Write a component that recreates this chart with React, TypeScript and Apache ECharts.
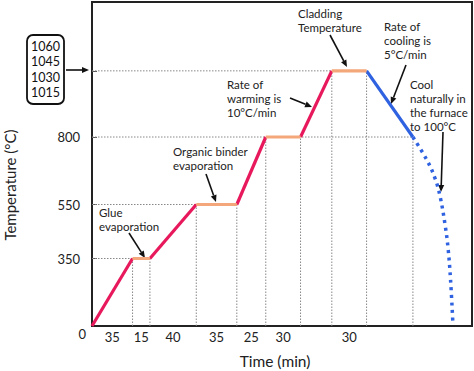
import React, { useEffect, useRef } from "react";
import * as echarts from "echarts";

// ---- data ----
const segmentMinutes = [35, 15, 40, 35, 25, 30, 27, 30, 40];
const breakTemps = [100, 350, 350, 550, 550, 800, 800, 1045, 1045, 800];
const phases = ["heat", "hold", "heat", "hold", "heat", "hold", "heat", "hold", "cool"];
const labeledSegments = [0, 1, 2, 3, 4, 5, 7];
const naturalTimes = [277, 289, 296, 300.5, 305, 307.5, 309.5, 311.5];
const naturalTemps = [800, 715, 648, 579, 468, 381, 270, 110];
const yTickValues = [350, 550, 800];
const gridLevels = [350, 550, 800, 1045];
const claddingTemps = ["1060", "1045", "1030", "1015"];

const Y_MIN = 100;
const Y_MAX = 1300;
const X_MAX = 328;

const FONT = "Lato";
const PHASE_COLOR: Record<string, string> = {
  heat: "#e8185c",
  hold: "#f4a77a",
  cool: "#2f62e0",
};

function arrow(x1: number, y1: number, x2: number, y2: number) {
  const ang = Math.atan2(y2 - y1, x2 - x1);
  const L = 7;
  const W = 3;
  const bx = x2 - L * Math.cos(ang);
  const by = y2 - L * Math.sin(ang);
  const px = -Math.sin(ang) * W;
  const py = Math.cos(ang) * W;
  return {
    type: "group",
    silent: true,
    children: [
      { type: "line", shape: { x1, y1, x2: bx, y2: by }, style: { stroke: "#111", lineWidth: 1.6 } },
      {
        type: "polygon",
        shape: { points: [[x2, y2], [bx + px, by + py], [bx - px, by - py]] },
        style: { fill: "#111" },
      },
    ],
  };
}

const NOTE_LH = 13.8;
function note(x: number, yFirstCenter: number, text: string) {
  return {
    type: "text",
    x,
    y: yFirstCenter - NOTE_LH / 2,
    silent: true,
    style: {
      text,
      fontFamily: FONT,
      fontSize: 11.5,
      lineHeight: NOTE_LH,
      fill: "#222",
      align: "left",
      verticalAlign: "top",
    },
  };
}

export default function App() {
  const ref = useRef<HTMLDivElement>(null);

  useEffect(() => {
    if (!ref.current) return;
    const chart = echarts.init(ref.current, null, { renderer: "svg" });

    const times: number[] = [0];
    segmentMinutes.forEach((m) => times.push(times[times.length - 1] + m));
    const mids = segmentMinutes.map((m, i) => times[i] + m / 2);

    const gridSeries: any[] = [];
    gridLevels.forEach((lv) => {
      let tEnd = 0;
      breakTemps.forEach((t, i) => {
        if (t === lv) tEnd = Math.max(tEnd, times[i]);
      });
      gridSeries.push({
        type: "line",
        data: [[0, lv], [tEnd, lv]],
        symbol: "none",
        silent: true,
        z: 1,
        lineStyle: { color: "#888", width: 1, type: [1.5, 1.5] },
      });
    });
    for (let i = 1; i < times.length; i++) {
      gridSeries.push({
        type: "line",
        data: [[times[i], Y_MIN], [times[i], breakTemps[i]]],
        symbol: "none",
        silent: true,
        z: 1,
        lineStyle: { color: "#888", width: 1, type: [1.5, 1.5] },
      });
    }

    const segSeries = segmentMinutes.map((_, i) => ({
      type: "line",
      data: [[times[i], breakTemps[i]], [times[i + 1], breakTemps[i + 1]]],
      symbol: "none",
      z: phases[i] === "hold" ? 4 : 3,
      lineStyle: { color: PHASE_COLOR[phases[i]], width: 3.2 },
    }));

    const naturalSeries = {
      type: "line",
      data: naturalTimes.map((t, i) => [t, naturalTemps[i]]),
      symbol: "none",
      smooth: 0.4,
      z: 3,
      lineStyle: { color: PHASE_COLOR.cool, width: 3.5, type: [3, 4.5], cap: "butt" },
    };

    const option: any = {
      animation: false,
      grid: {
        left: 92,
        right: 2,
        top: 2,
        bottom: 45,
        show: true,
        borderColor: "#222",
        borderWidth: 2,
      },
      xAxis: {
        type: "value",
        min: 0,
        max: X_MAX,
        splitLine: { show: false },
        axisTick: { show: false },
        axisLine: { lineStyle: { color: "#222", width: 2 } },
        axisLabel: {
          customValues: labeledSegments.map((i) => mids[i]),
          margin: 4,
          fontFamily: FONT,
          fontSize: 13,
          color: "#222",
          formatter: (v: number) => {
            const idx = labeledSegments.find((i) => Math.abs(mids[i] - v) < 1e-6);
            return idx !== undefined ? String(segmentMinutes[idx]) : "";
          },
        },
      },
      yAxis: {
        type: "value",
        min: Y_MIN,
        max: Y_MAX,
        splitLine: { show: false },
        axisLine: { lineStyle: { color: "#222", width: 2 } },
        axisTick: {
          show: true,
          inside: true,
          length: 5,
          customValues: [...yTickValues, 1045],
          lineStyle: { color: "#555" },
        },
        axisLabel: {
          customValues: [Y_MIN, ...yTickValues],
          margin: 6,
          fontFamily: FONT,
          fontSize: 13,
          color: "#222",
          formatter: (v: number) => (v === Y_MIN ? "{z|0}" : `{a|${v}}`),
          rich: {
            a: { fontFamily: FONT, fontSize: 13, color: "#222", padding: [0, 6, 0, 0] },
            z: { fontFamily: FONT, fontSize: 13, color: "#222", padding: [15, 0, 0, 0] },
          },
        },
      },
      series: [...gridSeries, ...segSeries, naturalSeries],
      graphic: [
        {
          type: "text",
          x: 10,
          y: 185,
          rotation: Math.PI / 2,
          silent: true,
          style: {
            text: "Temperature (°C)",
            fontFamily: FONT,
            fontSize: 15,
            fill: "#222",
            align: "center",
            verticalAlign: "middle",
          },
        },
        {
          type: "text",
          x: 275,
          y: 361,
          silent: true,
          style: {
            text: "Time (min)",
            fontFamily: FONT,
            fontSize: 15.5,
            fill: "#222",
            align: "center",
            verticalAlign: "middle",
          },
        },
        {
          type: "rect",
          shape: { x: 27, y: 35, width: 37, height: 69, r: 6 },
          silent: true,
          style: { fill: "#fff", stroke: "#111", lineWidth: 1.8 },
        },
        {
          type: "text",
          x: 45.5,
          y: 39,
          silent: true,
          style: {
            text: claddingTemps.join("\n"),
            fontFamily: FONT,
            fontSize: 12.5,
            lineHeight: 15.3,
            fill: "#111",
            align: "center",
            verticalAlign: "top",
          },
        },
        arrow(66, 70, 89, 70),
        note(99, 213, "Glue\nevaporation"),
        arrow(129, 233, 145, 258),
        note(173, 151.7, "Organic binder\nevaporation"),
        arrow(206, 174, 216, 202),
        note(227, 85, "Rate of\nwarming is\n10°C/min"),
        arrow(290, 98, 312, 107),
        note(298, 13.3, "Cladding\nTemperature"),
        arrow(330, 35, 347, 67),
        note(384, 26.7, "Rate of\ncooling is\n5°C/min"),
        arrow(406, 65, 391, 104),
        note(410, 85, "Cool\nnaturally in\nthe furnace\nto 100°C"),
        arrow(443, 132, 441, 192),
      ],
    };

    chart.setOption(option);
    return () => chart.dispose();
  }, []);

  return (
    <div
      ref={ref}
      style={{ position: "fixed", left: 0, top: 0, width: 474, height: 371, background: "#fff" }}
    />
  );
}
